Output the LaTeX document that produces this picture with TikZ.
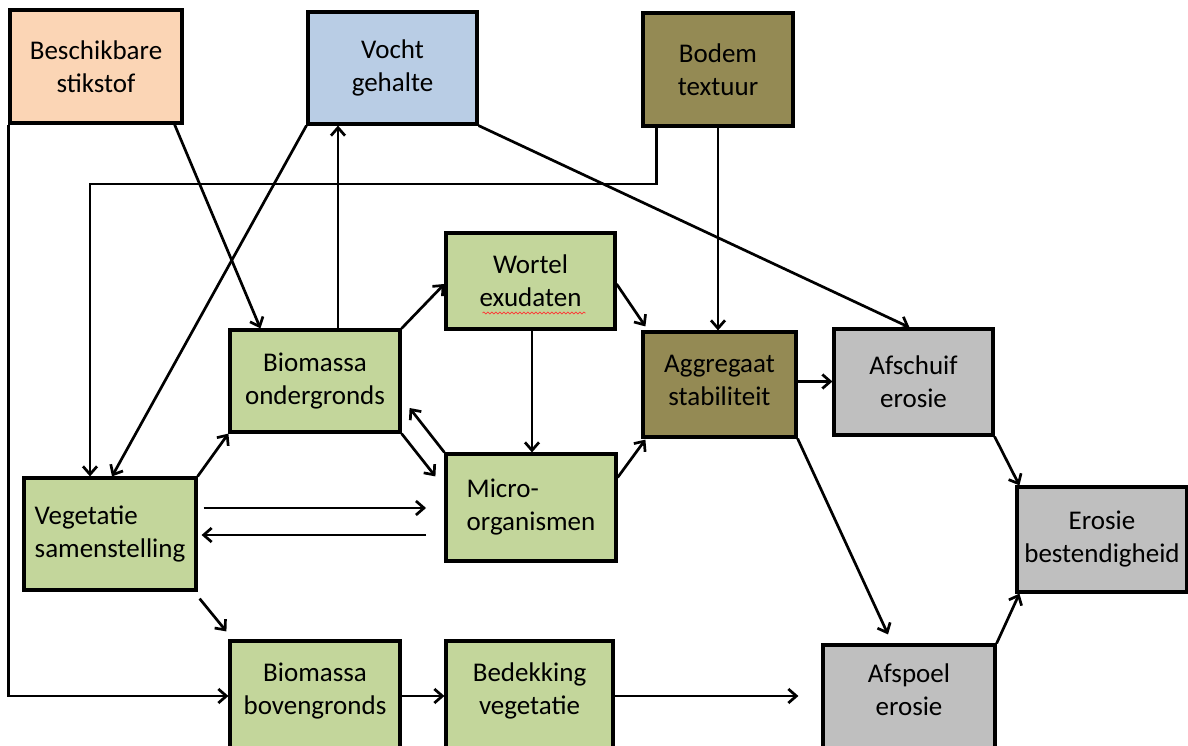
\documentclass[tikz,border=0pt]{standalone}
\usepackage{fontspec}
\setmainfont{Carlito}
\usepackage{tikz}
\usetikzlibrary{arrows.meta,decorations.pathmorphing}

\definecolor{stikstof}{HTML}{FBD5B5}
\definecolor{vocht}{HTML}{B9CDE5}
\definecolor{bodem}{HTML}{948A54}
\definecolor{groen}{HTML}{C3D69B}
\definecolor{grijs}{HTML}{BFBFBF}

\begin{document}
\begin{tikzpicture}[->,>={Straight Barb[length=8pt,width=14pt]},x=1pt,y=-1pt,
                    line width=2.7pt,
                    box/.style={draw,line width=3.2pt,minimum width=170pt,
                      minimum height=108pt,inner sep=6pt,align=center,
                      font=\fontsize{27}{33}\selectfont}]
  \useasboundingbox (0,0) rectangle (1188,746);

  \node[box,fill=stikstof,minimum width=172pt,minimum height=113pt] (stik) at (96,66.5) {Beschikbare\\stikstof};
  \node[box,fill=vocht,minimum width=169pt,minimum height=112pt] (vocht) at (392.5,68) {Vocht\\gehalte};
  \node[box,fill=bodem,minimum width=150pt,minimum height=113pt] (bodem) at (718,69.5) {Bodem\\textuur};
  \node[box,fill=groen,minimum width=169pt,minimum height=96pt] (wortel) at (530.5,281) {Wortel\\exudaten};
  \node[box,fill=groen,minimum height=102pt] (biomo) at (315,381) {Biomassa\\ondergronds};
  \node[box,fill=bodem,minimum width=153pt,minimum height=105pt,text depth=9pt] (aggr) at (719.5,384.5) {Aggregaat\\stabiliteit};
  \node[box,fill=grijs,minimum width=159pt,minimum height=106pt] (afschuif) at (913.5,382) {Afschuif\\erosie};
  \node[box,fill=groen,minimum width=172pt,minimum height=112pt,align=left] (veg) at (110,534) {Vegetatie\\samenstelling};
  \node[box,fill=groen,minimum height=107pt,align=left] (micro) at (531,507.5) {Micro-\\organismen};
  \node[box,fill=grijs,minimum height=105pt] (erosie) at (1102,539.5) {Erosie\\bestendigheid};
  \node[box,fill=groen,minimum height=110pt,text depth=15pt] (biomb) at (315,696) {Biomassa\\bovengronds};
  \node[box,fill=groen,minimum width=167pt,minimum height=110pt,text depth=15pt] (bedek) at (529.5,696) {Bedekking\\vegetatie};
  \node[box,fill=grijs,minimum width=172pt,minimum height=110pt,text depth=20pt] (afspoel) at (909,700) {Afspoel\\erosie};

  % spelling squiggle
  \draw[-,red!80,line width=0.7pt,decorate,
        decoration={snake,amplitude=1pt,segment length=4pt}]
        ([xshift=-48pt,yshift=-32pt]wortel.center) -- ([xshift=55pt,yshift=-32pt]wortel.center);

  \coordinate (vm1) at (426,508);
  \coordinate (vm2) at (426,535);

  \draw ([xshift=-9pt]stik.south east) -- ([xshift=32pt]biomo.north west);
  \draw (stik.south west) |- (biomb.west);
  \draw (vocht.south west) -- ([xshift=2pt]veg.north);
  \draw ([xshift=15pt]bodem.south west) |- (90,184) -- ([xshift=-20pt]veg.north);
  \draw (bodem.south) -- (bodem.south |- aggr.north);
  \draw (vocht.south east) -- ([xshift=-4pt]afschuif.north);
  \draw ([xshift=23pt]biomo.north) -- ([xshift=23pt]biomo.north |- vocht.south);
  \draw (biomo.north east) -- ([yshift=-3pt]wortel.west);
  \draw ([yshift=-3pt]wortel.east) -- ([xshift=4pt,yshift=4pt]aggr.north west);
  \draw ([xshift=1.5pt]wortel.south) -- ([xshift=1.5pt]wortel.south |- micro.north);
  \draw (micro.north west) -- ([xshift=8pt,yshift=-27pt]biomo.east);
  \draw (biomo.south east) -- ([xshift=-9pt,yshift=-24pt]micro.north west);
  \draw (veg.north east) -- (biomo.south west);
  \draw ([xshift=6pt]veg.east |- vm1) -- (vm1);
  \draw (vm2) -- ([xshift=4pt]veg.east |- vm2);
  \draw ([yshift=30pt]micro.east) -- ([xshift=4pt,yshift=-1pt]aggr.south west);
  \draw ([yshift=3pt]aggr.east) -- ([yshift=3pt]aggr.east -| afschuif.west);
  \draw (aggr.south east) -- ([xshift=-21pt,yshift=9pt]afspoel.north);
  \draw (afschuif.south east) -- ([xshift=4pt]erosie.north west);
  \draw (afspoel.north east) -- ([xshift=4pt]erosie.south west);
  \draw ([xshift=2pt,yshift=-7pt]veg.south east) -- ([xshift=-2pt,yshift=8pt]biomb.north west);
  \draw (biomb.east) -- (bedek.west);
  \draw (bedek.east) -- ([xshift=-23pt]afspoel.west |- bedek.east);
\end{tikzpicture}
\end{document}
